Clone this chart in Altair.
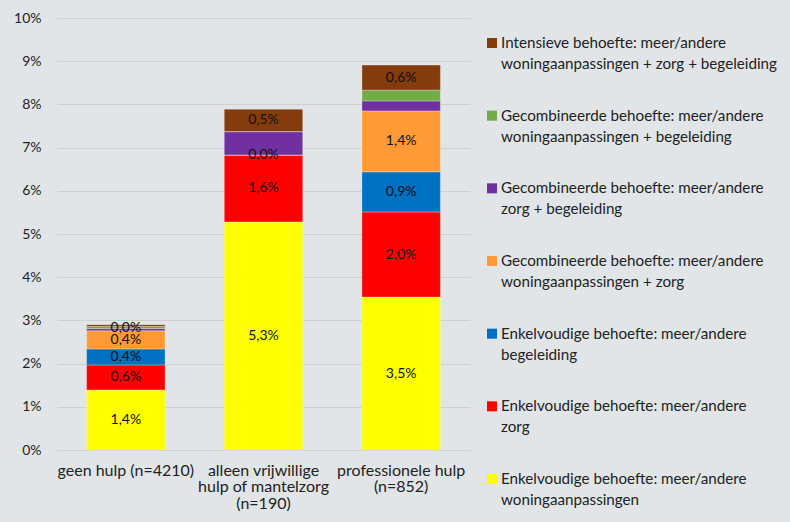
import altair as alt
import pandas as pd
import jinja2
from altair.utils.html import HTML_TEMPLATE

# ---- data ----
group_labels = ["geen hulp (n=4210)",
                "alleen vrijwillige|hulp of mantelzorg|(n=190)",
                "professionele hulp|(n=852)"]

series_names = [
    "Enkelvoudige behoefte: meer/andere\nwoningaanpassingen",
    "Enkelvoudige behoefte: meer/andere\nzorg",
    "Enkelvoudige behoefte: meer/andere\nbegeleiding",
    "Gecombineerde behoefte: meer/andere\nwoningaanpassingen + zorg",
    "Gecombineerde behoefte: meer/andere\nzorg + begeleiding",
    "Gecombineerde behoefte: meer/andere\nwoningaanpassingen + begeleiding",
    "Intensieve behoefte: meer/andere\nwoningaanpassingen + zorg + begeleiding",
]
series_colors = ["#FFFF00", "#FF0000", "#0070C0", "#FF9A36", "#7030A0", "#70AD47", "#843C0C"]

woning = [1.39, 5.28, 3.54]
zorg = [0.58, 1.55, 1.97]
begeleiding = [0.37, 0.0, 0.93]
woning_zorg = [0.42, 0.0, 1.41]
zorg_begeleiding = [0.05, 0.54, 0.23]
woning_begeleiding = [0.05, 0.0, 0.25]
intensief = [0.04, 0.52, 0.58]

lab_woning = ["1,4%", "5,3%", "3,5%"]
lab_zorg = ["0,6%", "1,6%", "2,0%"]
lab_begeleiding = ["0,4%", "0,0%", "0,9%"]
lab_woning_zorg = ["0,4%", "", "1,4%"]
lab_zorg_begeleiding = ["", "", ""]
lab_woning_begeleiding = ["0,0%", "", ""]
lab_intensief = ["", "0,5%", "0,6%"]

values = [woning, zorg, begeleiding, woning_zorg, zorg_begeleiding, woning_begeleiding, intensief]
labels = [lab_woning, lab_zorg, lab_begeleiding, lab_woning_zorg, lab_zorg_begeleiding,
          lab_woning_begeleiding, lab_intensief]

rows = []
for si, (name, vals, labs) in enumerate(zip(series_names, values, labels)):
    for gi, g in enumerate(group_labels):
        rows.append({"group": g, "series": name, "order": si, "value": vals[gi], "label": labs[gi]})
df = pd.DataFrame(rows)

legend_df = pd.DataFrame({"series": series_names,
                          "idx": [len(series_names) - 1 - i for i in range(len(series_names))]})

FONT = "Lato"
BG = "#E1E5E8"
GRID = "#CDD1D4"

color_scale = alt.Scale(domain=series_names, range=series_colors)
x_enc = alt.X("group:N", sort=group_labels, title=None,
              scale=alt.Scale(paddingInner=0.43, paddingOuter=0.215),
              axis=alt.Axis(labelExpr="split(datum.label, '|')", labelAngle=0,
                            labelFontSize=16, labelColor="#222222", labelFont=FONT,
                            labelLineHeight=16.5, labelPadding=12,
                            ticks=False, domain=True, domainColor=GRID))

base = alt.Chart(df).transform_stack(
    stack="value", groupby=["group"], as_=["y0", "y1"],
    sort=[alt.SortField("order", order="ascending")]
).transform_calculate(mid="(datum.y0 + datum.y1) / 2")

bars = base.mark_bar(stroke="#FFFFFF", strokeWidth=0.6, strokeOpacity=0.5).encode(
    x=x_enc,
    y=alt.Y("y0:Q", title=None, scale=alt.Scale(domain=[0, 10], nice=False),
            axis=alt.Axis(values=list(range(0, 11)), labelExpr="datum.value + '%'",
                          grid=True, gridColor=GRID, gridWidth=1, domain=False, ticks=False,
                          labelFontSize=14, labelColor="#222222", labelFont=FONT,
                          labelPadding=16)),
    y2="y1:Q",
    color=alt.Color("series:N", scale=color_scale, legend=None),
)

texts = base.transform_filter("datum.label != ''").mark_text(
    font=FONT, fontSize=14, color="#111111", baseline="middle"
).encode(x=alt.X("group:N", sort=group_labels), y=alt.Y("mid:Q"), text="label:N")

main = alt.layer(bars, texts).properties(width=413, height=432)

leg_base = alt.Chart(legend_df)
leg_y = alt.Y("idx:Q", scale=alt.Scale(domain=[0, 6], range=[25, 461]), axis=None)
squares = leg_base.mark_square(size=100, opacity=1).encode(
    x=alt.value(5), y=leg_y,
    color=alt.Color("series:N", scale=color_scale, legend=None))
leg_text = leg_base.mark_text(align="left", baseline="alphabetic", dy=5, lineBreak="\n",
                              lineHeight=21, font=FONT, fontSize=15.2, color="#222222").encode(
    x=alt.value(14), y=leg_y, text="series:N")
legend = alt.layer(squares, leg_text).properties(width=260, height=432)

chart = alt.hconcat(main, legend, spacing=17).properties(
    background=BG, padding={"left": 5, "top": 3, "right": 0, "bottom": 0}
).configure_view(stroke=None).configure_concat(spacing=17)

# page template: the standard one, with the page background matching the chart background
page_template = jinja2.Template("")
page_template.render = lambda *a, **kw: HTML_TEMPLATE.render(*a, **kw).replace(
    "<head>", "<head>\n<style>html, body { background: #E1E5E8; }</style>", 1)

chart.save("out.html", embed_options={"renderer": "svg", "actions": False}, template=page_template)
